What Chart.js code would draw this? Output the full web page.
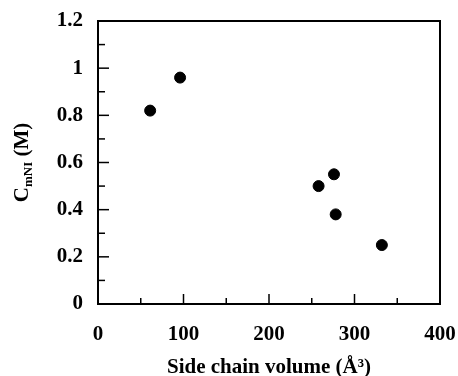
<!DOCTYPE html>
<html><head><meta charset="utf-8">
<script src="https://cdn.jsdelivr.net/npm/chart.js@4"></script>
<style>html,body{margin:0;padding:0;background:#fff}</style>
</head><body>
<canvas id="c" width="458" height="376" style="width:458px;height:376px;display:block"></canvas>
<script>
// ---- data ----
const sideChainVolume = [61, 96, 258, 276, 278, 332];
const cmNI = [0.82, 0.96, 0.50, 0.55, 0.38, 0.25];
const xTickValues = [0, 100, 200, 300, 400];
const yTickValues = [0, 0.2, 0.4, 0.6, 0.8, 1.0, 1.2];
const xTitle = 'Side chain volume (Å³)';
const yTitleMain = 'C';
const yTitleSub = 'mNI';
const yTitleRest = ' (M)';

const FONT = '"Liberation Serif", "Times New Roman", serif';

const framePlugin = {
  id: 'frame',
  afterDraw(chart) {
    const ctx = chart.ctx, a = chart.chartArea;
    const xs = chart.scales.x, ys = chart.scales.y;
    ctx.save();
    ctx.strokeStyle = '#000';
    ctx.lineWidth = 2;
    ctx.strokeRect(a.left, a.top, a.right - a.left, a.bottom - a.top);
    ctx.lineWidth = 1.5;
    for (let i = 0; i < xTickValues.length; i++) {
      const v = xTickValues[i];
      const px = xs.getPixelForValue(v);
      ctx.beginPath(); ctx.moveTo(px, a.bottom); ctx.lineTo(px, a.bottom - 10); ctx.stroke();
      if (i < xTickValues.length - 1) {
        const m = xs.getPixelForValue((v + xTickValues[i + 1]) / 2);
        ctx.beginPath(); ctx.moveTo(m, a.bottom); ctx.lineTo(m, a.bottom - 6); ctx.stroke();
      }
    }
    for (let i = 0; i < yTickValues.length; i++) {
      const v = yTickValues[i];
      const py = ys.getPixelForValue(v);
      ctx.beginPath(); ctx.moveTo(a.left, py); ctx.lineTo(a.left + 11, py); ctx.stroke();
      if (i < yTickValues.length - 1) {
        const m = ys.getPixelForValue((v + yTickValues[i + 1]) / 2);
        ctx.beginPath(); ctx.moveTo(a.left, m); ctx.lineTo(a.left + 7, m); ctx.stroke();
      }
    }
    ctx.fillStyle = '#000';
    ctx.textBaseline = 'alphabetic';
    ctx.textAlign = 'center';
    ctx.font = 'bold 21px ' + FONT;
    ctx.fillText(xTitle, (a.left + a.right) / 2, 373);
    const cx = 28, cy = (a.top + a.bottom) / 2;
    ctx.translate(cx, cy);
    ctx.rotate(-Math.PI / 2);
    ctx.textAlign = 'left';
    const bigF = 'bold 21px ' + FONT, smallF = 'bold 13px ' + FONT;
    ctx.font = bigF; const w1 = ctx.measureText(yTitleMain).width;
    ctx.font = smallF; const w2 = ctx.measureText(yTitleSub).width;
    ctx.font = bigF; const w3 = ctx.measureText(yTitleRest).width;
    let x0 = -(w1 + w2 + w3) / 2;
    ctx.font = bigF; ctx.fillText(yTitleMain, x0, 0); x0 += w1;
    ctx.font = smallF; ctx.fillText(yTitleSub, x0, 4); x0 += w2;
    ctx.font = bigF; ctx.fillText(yTitleRest, x0, 0);
    ctx.restore();
  }
};

new Chart(document.getElementById('c'), {
  type: 'scatter',
  data: {
    datasets: [{
      data: sideChainVolume.map((x, i) => ({ x: x, y: cmNI[i] })),
      backgroundColor: '#000',
      borderColor: '#000',
      pointRadius: 5.5,
      pointHoverRadius: 5.5
    }]
  },
  options: {
    responsive: false,
    animation: false,
    devicePixelRatio: 1,
    layout: { padding: { left: 0, right: 18, top: 21, bottom: 0 } },
    plugins: { legend: { display: false }, tooltip: { enabled: false } },
    scales: {
      x: {
        type: 'linear', position: 'bottom', min: 0, max: 400,
        afterBuildTicks: s => { s.ticks = xTickValues.map(v => ({ value: v })); },
        afterFit: s => { s.height = 72; s.paddingLeft = 0; s.paddingRight = 0; },
        grid: { display: false, drawTicks: false },
        border: { display: false },
        ticks: { color: '#000', padding: 18, maxRotation: 0, autoSkip: false,
          font: { family: FONT, size: 21, weight: 'bold' },
          callback: v => String(v) }
      },
      y: {
        type: 'linear', position: 'left', min: 0, max: 1.2,
        afterBuildTicks: s => { s.ticks = yTickValues.map(v => ({ value: v })); },
        afterFit: s => { s.width = 98; s.paddingTop = 0; s.paddingBottom = 0; },
        grid: { display: false, drawTicks: false },
        border: { display: false },
        ticks: { color: '#000', padding: 15, autoSkip: false,
          font: { family: FONT, size: 21, weight: 'bold' },
          callback: v => String(Math.round(v * 10) / 10) }
      }
    }
  },
  plugins: [framePlugin]
});
</script>
</body></html>
